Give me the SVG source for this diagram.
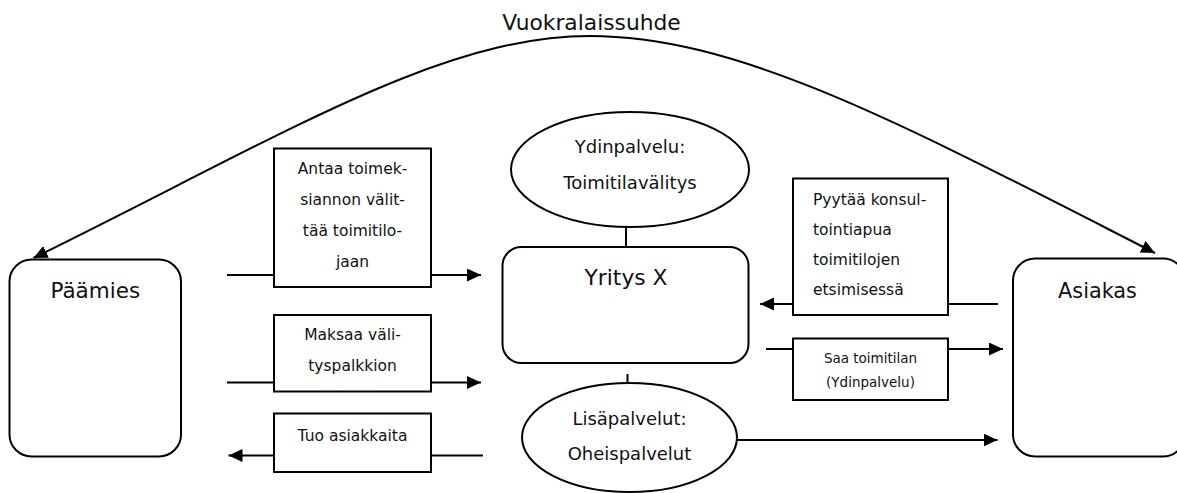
<svg xmlns="http://www.w3.org/2000/svg" width="1177" height="493" viewBox="0 0 1177 493">
<defs>
<marker id="ah" markerUnits="userSpaceOnUse" markerWidth="15" markerHeight="14" refX="14" refY="6.5" orient="auto-start-reverse">
<path d="M0,0 L14,6.5 L0,13 z" fill="#000"/>
</marker>
</defs>
<style>
.shape{fill:#fff;stroke:#000;stroke-width:2}
.ln{fill:none;stroke:#000;stroke-width:2}
.t{font-family:"DejaVu Sans","Liberation Sans",sans-serif;fill:#111;text-anchor:middle}
.big{font-size:21.5px}
.mid{font-size:18px}
.sm{font-size:15.5px}
.xs{font-size:13.5px}
</style>
<rect width="1177" height="493" fill="#fff"/>
<g id="connectors">
<path class="ln" d="M33.5,258 C283,135.5 440,36 590,36 C740,36 905,125.5 1155,253" marker-start="url(#ah)" marker-end="url(#ah)"/>
<text class="t big" x="591.5" y="29.5" style="font-size:21.8px">Vuokralaissuhde</text>
<line class="ln" x1="227" y1="275" x2="274" y2="275"/>
<line class="ln" x1="431" y1="275" x2="481" y2="275" marker-end="url(#ah)"/>
<line class="ln" x1="227" y1="382.5" x2="274" y2="382.5"/>
<line class="ln" x1="431" y1="382.5" x2="481" y2="382.5" marker-end="url(#ah)"/>
<line class="ln" x1="483" y1="455.5" x2="431" y2="455.5"/>
<line class="ln" x1="274" y1="455.5" x2="228.5" y2="455.5" marker-end="url(#ah)"/>
<line class="ln" x1="998" y1="304" x2="948" y2="304"/>
<line class="ln" x1="793" y1="304" x2="760" y2="304" marker-end="url(#ah)"/>
<line class="ln" x1="766" y1="349" x2="793" y2="349"/>
<line class="ln" x1="948" y1="349" x2="1003" y2="349" marker-end="url(#ah)"/>
<line class="ln" x1="737" y1="440" x2="997.5" y2="440" marker-end="url(#ah)"/>
<line class="ln" x1="626" y1="227" x2="626" y2="247"/>
<line class="ln" x1="627.5" y1="374" x2="627.5" y2="383"/>
</g>
<g id="paamies">
<rect class="shape" x="9.5" y="259.5" width="171.5" height="197" rx="22"/>
<text class="t big" x="95.3" y="298">Päämies</text>
</g>
<g id="asiakas">
<rect class="shape" x="1013" y="258.5" width="172" height="198" rx="22"/>
<text class="t big" x="1097.5" y="298" style="font-size:20.8px">Asiakas</text>
</g>
<g id="ydinpalvelu">
<ellipse class="shape" cx="630" cy="169.5" rx="119" ry="57.5"/>
<text class="t mid" x="630" y="153">Ydinpalvelu:</text>
<text class="t mid" x="630" y="189">Toimitilavälitys</text>
</g>
<g id="yritys">
<rect class="shape" x="502.5" y="247" width="246" height="116" rx="19"/>
<text class="t big" x="626" y="285" style="font-size:21.8px">Yritys X</text>
</g>
<g id="lisapalvelut">
<ellipse class="shape" cx="629.5" cy="437.5" rx="107.5" ry="54.5"/>
<text class="t mid" x="629.5" y="425">Lisäpalvelut:</text>
<text class="t mid" x="629.5" y="460">Oheispalvelut</text>
</g>
<g id="antaa">
<rect class="shape" x="274" y="148.5" width="157" height="138.5"/>
<text class="t sm" x="352.5" y="174">Antaa toimek-</text>
<text class="t sm" x="352.5" y="205">siannon välit-</text>
<text class="t sm" x="352.5" y="236">tää toimitilo-</text>
<text class="t sm" x="352.5" y="267">jaan</text>
</g>
<g id="maksaa">
<rect class="shape" x="274" y="315" width="157" height="76.5"/>
<text class="t sm" x="352.5" y="340">Maksaa väli-</text>
<text class="t sm" x="352.5" y="371">tyspalkkion</text>
</g>
<g id="tuo">
<rect class="shape" x="274" y="413.5" width="157" height="58.5"/>
<text class="t sm" x="352.5" y="440.5">Tuo asiakkaita</text>
</g>
<g id="pyytaa">
<rect class="shape" x="793" y="178.5" width="155" height="136.5"/>
<text class="t sm" x="813" y="205" style="text-anchor:start">Pyytää konsul-</text>
<text class="t sm" x="813" y="235" style="text-anchor:start">tointiapua</text>
<text class="t sm" x="813" y="264.5" style="text-anchor:start">toimitilojen</text>
<text class="t sm" x="813" y="295" style="text-anchor:start">etsimisessä</text>
</g>
<g id="saa">
<rect class="shape" x="793" y="338.5" width="155" height="61.5"/>
<text class="t xs" x="870.5" y="362.5">Saa toimitilan</text>
<text class="t xs" x="870.5" y="386.5">(Ydinpalvelu)</text>
</g>
</svg>
